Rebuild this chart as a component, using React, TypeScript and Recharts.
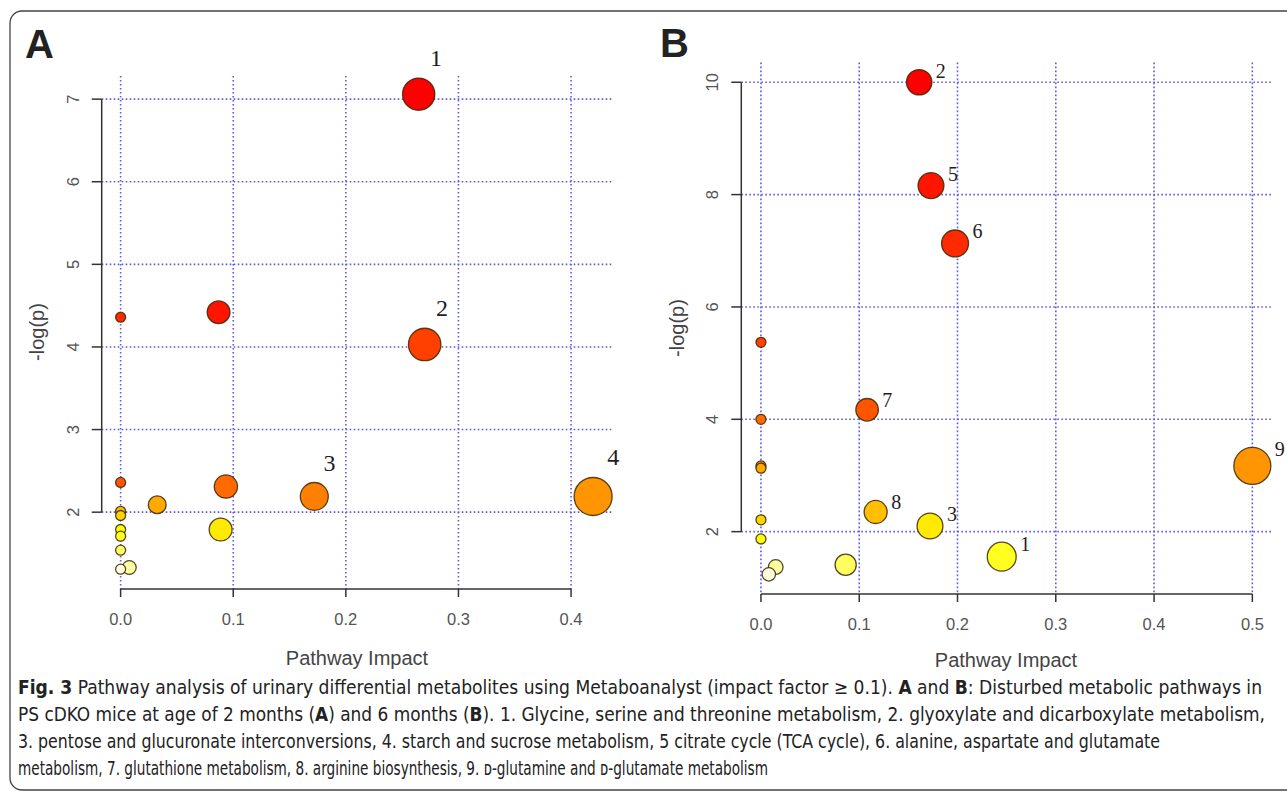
import React from 'react';
import { ScatterChart, Scatter, XAxis, YAxis, CartesianGrid, ReferenceLine } from 'recharts';

// ---------- Panel A (2 months) ----------
const aImpact = [0.2647, 0.27, 0.172, 0.4196, 0, 0.087, 0, 0.0935, 0.0325, 0.0888, 0, 0, 0, 0, 0, 0.0077, 0];
const aLogP = [7.06, 4.03, 2.19, 2.19, 4.36, 4.42, 2.36, 2.31, 2.09, 1.79, 2.01, 1.96, 1.79, 1.71, 1.54, 1.33, 1.31];
const aLabels = ['1', '2', '3', '4', '', '', '', '', '', '', '', '', '', '', '', '', ''];
const aXTicks = [0, 0.1, 0.2, 0.3, 0.4];
const aYTicks = [2, 3, 4, 5, 6, 7];

// ---------- Panel B (6 months) ----------
const bImpact = [0.161, 0.173, 0.1975, 0, 0.108, 0, 0, 0.5, 0, 0.1167, 0, 0.172, 0, 0.245, 0.0862, 0.015, 0.008];
const bLogP = [10.0, 8.16, 7.13, 5.37, 4.17, 4.0, 3.17, 3.17, 3.13, 2.35, 2.21, 2.1, 1.87, 1.555, 1.41, 1.37, 1.24];
const bLabels = ['2', '5', '6', '', '7', '', '', '9', '', '8', '', '3', '', '1', '', '', ''];
const bXTicks = [0, 0.1, 0.2, 0.3, 0.4, 0.5];
const bYTicks = [2, 4, 6, 8, 10];

const SANS = "'Liberation Sans', Arial, sans-serif";
const SERIF = "'Liberation Serif', 'DejaVu Serif', serif";
const NARROW = "'Liberation Sans Narrow', 'DejaVu Sans Condensed', 'Open Sans', sans-serif";

function hsvHex(h: number, s: number, v: number): string {
  const i = Math.floor(h * 6);
  const f = h * 6 - i;
  const p = v * (1 - s);
  const q = v * (1 - f * s);
  const t = v * (1 - (1 - f) * s);
  let r = 0, g = 0, b = 0;
  switch (i % 6) {
    case 0: r = v; g = t; b = p; break;
    case 1: r = q; g = v; b = p; break;
    case 2: r = p; g = v; b = t; break;
    case 3: r = p; g = q; b = v; break;
    case 4: r = t; g = p; b = v; break;
    default: r = v; g = p; b = q;
  }
  const hx = (c: number) => Math.round(c * 255).toString(16).padStart(2, '0');
  return '#' + hx(r) + hx(g) + hx(b);
}

// R's heat.colors(n)
function heatColors(n: number): string[] {
  const j = Math.floor(n / 4);
  const i = n - j;
  const out: string[] = [];
  for (let k = 0; k < i; k++) out.push(hsvHex(i > 1 ? (k / (i - 1)) / 6 : 0, 1, 1));
  for (let k = 0; k < j; k++) {
    const from = 1 - 1 / (2 * j);
    const to = 1 / (2 * j);
    const s = j > 1 ? from + (to - from) * (k / (j - 1)) : from;
    out.push(hsvHex(1 / 6, s, 1));
  }
  return out;
}

function buildRows(impact: number[], logp: number[], labels: string[], rMax: number) {
  const n = impact.length;
  const pal = heatColors(n);
  const order = logp.map((_, i) => i).sort((a, b) => logp[b] - logp[a] || a - b);
  const rank: number[] = [];
  order.forEach((idx, k) => { rank[idx] = k; });
  const maxI = Math.max(...impact);
  return impact.map((x, i) => ({
    x,
    y: logp[i],
    label: labels[i],
    fill: pal[rank[i]],
    r: 5 + (rMax - 5) * Math.sqrt(x / maxI),
  }));
}

const aRows = buildRows(aImpact, aLogP, aLabels, 19);
const bRows = buildRows(bImpact, bLogP, bLabels, 18.5);

const YTick = (props: any) => {
  const { x, y, payload } = props;
  const cx = x - 17;
  return (
    <text x={cx} y={y} transform={`rotate(-90 ${cx} ${y})`} textAnchor="middle" dominantBaseline="central"
      fontSize={16.5} fill="#555" fontFamily={SANS}>
      {payload.value}
    </text>
  );
};

const makeBubble = (labelSize: number, place: (r: number) => [number, number]) => (p: any) => {
  const d = p.payload;
  const [dx, dy] = place(d.r);
  return (
    <g>
      <circle cx={p.cx} cy={p.cy} r={d.r} fill={d.fill} stroke="#3a2608" strokeOpacity={0.85} strokeWidth={1.3} />
      {d.label ? (
        <text x={p.cx + dx} y={p.cy + dy} textAnchor="middle" dominantBaseline="central"
          fontSize={labelSize} fontFamily={SERIF} fill="#1e1e1e">{d.label}</text>
      ) : null}
    </g>
  );
};

const bubbleA = makeBubble(24, (r) => [r * 0.95 + 2, -(r + 20)]);
const bubbleB = makeBubble(20, (r) => [r + 9, -r * 0.9]);

const GRID = '#5c5ce0';

type PanelProps = {
  rows: any[];
  xDomain: [number, number];
  yDomain: [number, number];
  xTicks: number[];
  yTicks: number[];
  margin: { top: number; right: number; bottom: number; left: number };
  bubble: any;
};

const Panel = ({ rows, xDomain, yDomain, xTicks, yTicks, margin, bubble }: PanelProps) => (
  <div style={{ position: 'absolute', left: 0, top: 0 }}>
    <ScatterChart width={1287} height={793} margin={margin}>
      <CartesianGrid stroke={GRID} strokeDasharray="1.6 2.4" strokeWidth={1.6} syncWithTicks />
      <XAxis type="number" dataKey="x" domain={xDomain} ticks={xTicks} axisLine={false}
        tickLine={{ stroke: '#333', strokeWidth: 1.5 }} tickSize={8} tickMargin={16} height={60}
        tickFormatter={(v: number) => v.toFixed(1)}
        tick={{ fill: '#555', fontSize: 16.5, fontFamily: SANS }} />
      <YAxis type="number" dataKey="y" domain={yDomain} ticks={yTicks} axisLine={false}
        tickLine={{ stroke: '#333', strokeWidth: 1.5 }} tickSize={10} tickMargin={2} width={60}
        tick={<YTick />} />
      <ReferenceLine segment={[{ x: xTicks[0], y: yDomain[0] }, { x: xTicks[xTicks.length - 1], y: yDomain[0] }]}
        stroke="#333" strokeWidth={1.5} ifOverflow="visible" />
      <ReferenceLine segment={[{ x: xDomain[0], y: yTicks[0] }, { x: xDomain[0], y: yTicks[yTicks.length - 1] }]}
        stroke="#333" strokeWidth={1.5} ifOverflow="visible" />
      <Scatter data={rows} isAnimationActive={false} shape={bubble} />
    </ScatterChart>
  </div>
);

export default function App() {
  return (
    <div style={{ position: 'absolute', left: 0, top: 0, width: 1287, height: 793, background: '#fff', overflow: 'hidden' }}>
      <svg width={1287} height={793} style={{ position: 'absolute', left: 0, top: 0 }}>
        <rect x={10} y={11} width={1300} height={779} rx={12} ry={12} fill="none" stroke="#444" strokeWidth={1.3} />
        <text x={25} y={58} fontSize={40} fontWeight={900} fontFamily={SANS} fill="#222">A</text>
        <text x={660} y={57} fontSize={40} fontWeight={900} fontFamily={SANS} fill="#222">B</text>
        {/* axis titles */}
        <text x={357} y={658} textAnchor="middle" dominantBaseline="central" fontSize={20} fontFamily={SANS} fill="#444">Pathway Impact</text>
        <text x={1006} y={660} textAnchor="middle" dominantBaseline="central" fontSize={20} fontFamily={SANS} fill="#444">Pathway Impact</text>
        <text x={37} y={332} transform="rotate(-90 37 332)" textAnchor="middle" dominantBaseline="central" fontSize={20} fontFamily={SANS} fill="#444">-log(p)</text>
        <text x={677} y={328} transform="rotate(-90 677 328)" textAnchor="middle" dominantBaseline="central" fontSize={20} fontFamily={SANS} fill="#444">-log(p)</text>
        {/* caption */}
        <g fontFamily={NARROW} fontSize={19} fill="#222">
          <text x={18} y={694} textLength={1244} lengthAdjust="spacingAndGlyphs">
            <tspan fontWeight="bold">Fig. 3</tspan>
            <tspan>{'  Pathway analysis of urinary differential metabolites using Metaboanalyst (impact factor ≥ 0.1). '}</tspan>
            <tspan fontWeight="bold">A</tspan>
            <tspan> and </tspan>
            <tspan fontWeight="bold">B</tspan>
            <tspan>: Disturbed metabolic pathways in</tspan>
          </text>
          <text x={18} y={721} textLength={1247} lengthAdjust="spacingAndGlyphs">
            <tspan>PS cDKO mice at age of 2 months (</tspan>
            <tspan fontWeight="bold">A</tspan>
            <tspan>) and 6 months (</tspan>
            <tspan fontWeight="bold">B</tspan>
            <tspan>). 1. Glycine, serine and threonine metabolism, 2. glyoxylate and dicarboxylate metabolism,</tspan>
          </text>
          <text x={18} y={748} textLength={1142} lengthAdjust="spacingAndGlyphs">
            3. pentose and glucuronate interconversions, 4. starch and sucrose metabolism, 5 citrate cycle (TCA cycle), 6. alanine, aspartate and glutamate
          </text>
          <text x={18} y={775} textLength={750} lengthAdjust="spacingAndGlyphs">
            metabolism, 7. glutathione metabolism, 8. arginine biosynthesis, 9. ᴅ-glutamine and ᴅ-glutamate metabolism
          </text>
        </g>
      </svg>
      <Panel rows={aRows} xDomain={[-0.0168, 0.4368]} yDomain={[1.07, 7.28]} xTicks={aXTicks} yTicks={aYTicks}
        margin={{ top: 76, right: 674.5, bottom: 144, left: 41.7 }} bubble={bubbleA} />
      <Panel rows={bRows} xDomain={[-0.02, 0.52]} yDomain={[0.89, 10.35]} xTicks={bXTicks} yTicks={bYTicks}
        margin={{ top: 62.6, right: 15, bottom: 139, left: 681.3 }} bubble={bubbleB} />
    </div>
  );
}
